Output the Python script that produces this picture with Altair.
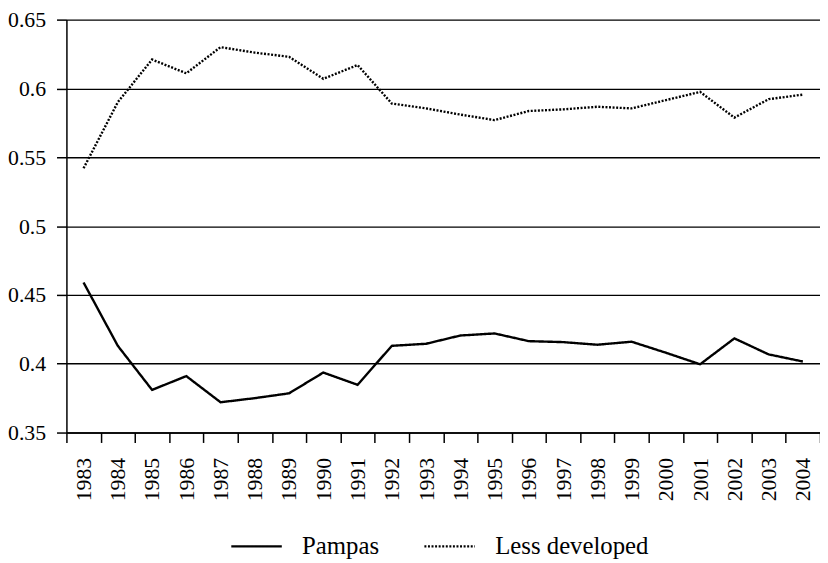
import altair as alt
import pandas as pd

years = [str(y) for y in range(1983, 2005)]
pampas = [0.459, 0.413, 0.381, 0.391, 0.372, 0.375, 0.3785, 0.3936, 0.3847, 0.413, 0.4145,
          0.4205, 0.422, 0.4164, 0.4157, 0.4138, 0.416, 0.408, 0.3996, 0.4184, 0.4068, 0.4016]
less_developed = [0.542, 0.590, 0.621, 0.611, 0.630, 0.626, 0.623, 0.607, 0.617, 0.589, 0.5855,
                  0.581, 0.577, 0.5836, 0.5848, 0.5867, 0.5855, 0.5915, 0.5975, 0.5788, 0.5922, 0.5955]
series_names = ["Pampas", "Less developed"]
y_ticks = [0.35, 0.4, 0.45, 0.5, 0.55, 0.6, 0.65]

rows = []
for name, vals in zip(series_names, [pampas, less_developed]):
    for yr, v in zip(years, vals):
        rows.append({"year": yr, "value": v, "series": name})
df = pd.DataFrame(rows)

FONT = "'Liberation Serif', 'DejaVu Serif', serif"

chart = alt.Chart(df).mark_line(color="black", strokeWidth=2.4, strokeCap="butt").encode(
    x=alt.X("year:O", sort=years, bandPosition=0.5,
            scale=alt.Scale(type="band", paddingInner=0, paddingOuter=0),
            axis=alt.Axis(title=None, tickBand="extent", labelAngle=270,
                          labelPadding=15, grid=False)),
    y=alt.Y("value:Q",
            scale=alt.Scale(domain=[0.35, 0.65], nice=False, zero=False),
            axis=alt.Axis(title=None, values=y_ticks, format=".2~f",
                          labelPadding=11,
                          grid=True, gridColor="black", gridWidth=1.4, gridOpacity=1)),
    strokeDash=alt.StrokeDash("series:N",
                              scale=alt.Scale(domain=series_names, range=[[1, 0], [2, 1.6]]),
                              legend=alt.Legend(title=None, orient="none", direction="horizontal",
                                                legendX=165, legendY=505,
                                                symbolType="stroke", symbolSize=2601,
                                                symbolStrokeWidth=2.4, symbolStrokeColor="black",
                                                labelFont=FONT, labelFontSize=25, labelColor="black",
                                                labelOffset=19, columnPadding=40)),
).properties(
    width=761, height=417,
    autosize=alt.AutoSizeParams(type="none"),
    padding={"left": 59, "top": 9, "right": 0, "bottom": 129},
).configure_view(stroke=None).configure_axis(
    labelFont=FONT, labelFontSize=22, labelColor="black",
    ticks=True, tickSize=10, tickColor="black", tickWidth=1.5, tickOpacity=1,
    domain=True, domainColor="black", domainWidth=1.5, domainOpacity=1,
)

chart.save("out.html", embed_options={"renderer": "svg", "actions": False})
